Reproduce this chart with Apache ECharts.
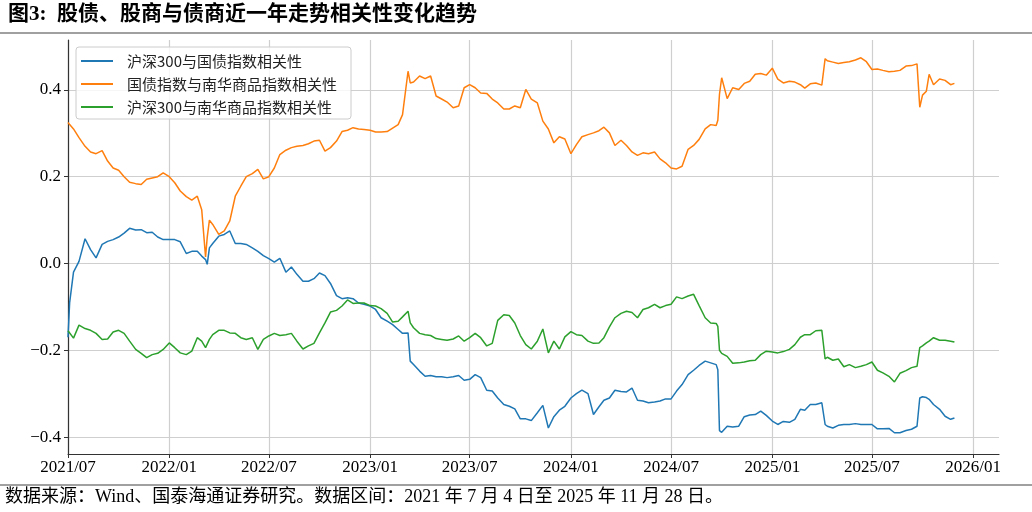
<!DOCTYPE html>
<html>
<head>
<meta charset="utf-8">
<title>股债、股商与债商近一年走势相关性变化趋势</title>
<script src="https://cdn.jsdelivr.net/npm/echarts@6/dist/echarts.min.js"></script>
<style>
  html, body { margin: 0; padding: 0; background: #fff; }
  #chart { width: 1032px; height: 512px; }
</style>
</head>
<body>
<div id="chart"></div>
<script>
// ========== 数据 ==========
var dates = [
  '2021-07-01', '2021-07-04', '2021-07-11', '2021-07-21', '2021-08-01', '2021-08-11', '2021-08-21',
  '2021-09-01', '2021-09-11', '2021-09-21', '2021-10-01', '2021-10-11', '2021-10-21',
  '2021-11-01', '2021-11-11', '2021-11-21', '2021-12-01', '2021-12-11', '2021-12-21',
  '2022-01-01', '2022-01-11', '2022-01-21', '2022-02-01', '2022-02-11', '2022-02-21',
  '2022-03-01', '2022-03-08', '2022-03-11', '2022-03-15', '2022-03-21',
  '2022-04-01', '2022-04-11', '2022-04-21', '2022-05-01', '2022-05-11', '2022-05-21',
  '2022-06-01', '2022-06-11', '2022-06-21', '2022-07-01', '2022-07-11', '2022-07-21',
  '2022-08-01', '2022-08-11', '2022-08-21', '2022-09-01', '2022-09-11', '2022-09-21',
  '2022-10-01', '2022-10-11', '2022-10-21', '2022-11-01', '2022-11-11', '2022-11-21',
  '2022-12-01', '2022-12-11', '2022-12-21',
  '2023-01-01', '2023-01-11', '2023-01-21', '2023-02-01', '2023-02-11', '2023-02-21',
  '2023-03-01', '2023-03-11', '2023-03-15', '2023-03-21',
  '2023-04-01', '2023-04-11', '2023-04-21', '2023-05-01', '2023-05-11', '2023-05-21',
  '2023-06-01', '2023-06-11', '2023-06-21', '2023-07-01', '2023-07-11', '2023-07-21',
  '2023-08-01', '2023-08-11', '2023-08-21', '2023-09-01', '2023-09-11', '2023-09-21',
  '2023-10-01', '2023-10-11', '2023-10-21', '2023-11-01', '2023-11-11', '2023-11-21',
  '2023-12-01', '2023-12-11', '2023-12-21',
  '2024-01-01', '2024-01-11', '2024-01-21', '2024-02-01', '2024-02-11', '2024-02-21',
  '2024-03-01', '2024-03-11', '2024-03-21', '2024-04-01', '2024-04-11', '2024-04-21',
  '2024-05-01', '2024-05-11', '2024-05-21', '2024-06-01', '2024-06-11', '2024-06-21',
  '2024-07-01', '2024-07-11', '2024-07-21', '2024-08-01', '2024-08-11', '2024-08-21',
  '2024-09-01', '2024-09-11', '2024-09-21', '2024-09-24', '2024-09-27',
  '2024-10-01', '2024-10-11', '2024-10-21', '2024-11-01', '2024-11-11', '2024-11-21',
  '2024-12-01', '2024-12-11', '2024-12-21',
  '2025-01-01', '2025-01-11', '2025-01-21', '2025-02-01', '2025-02-11', '2025-02-21',
  '2025-03-01', '2025-03-11', '2025-03-21', '2025-04-01', '2025-04-04', '2025-04-07',
  '2025-04-11', '2025-04-21', '2025-05-01', '2025-05-11', '2025-05-21',
  '2025-06-01', '2025-06-11', '2025-06-21', '2025-07-01', '2025-07-11', '2025-07-21',
  '2025-08-01', '2025-08-11', '2025-08-21', '2025-09-01', '2025-09-11', '2025-09-21',
  '2025-09-26', '2025-10-01', '2025-10-08', '2025-10-13', '2025-10-21',
  '2025-11-01', '2025-11-11', '2025-11-21', '2025-11-28'
];

// 沪深300与国债指数相关性
var hsBond = [
  -0.17, -0.09, -0.02, 0.005, 0.057, 0.032, 0.013,
  0.044, 0.051, 0.055, 0.061, 0.07, 0.081,
  0.077, 0.078, 0.071, 0.072, 0.061, 0.055,
  0.055, 0.055, 0.05, 0.023, 0.028, 0.028,
  0.017, 0.009, -0.002, 0.036, 0.046,
  0.063, 0.067, 0.075, 0.046, 0.046, 0.044,
  0.036, 0.028, 0.018, 0.011, 0.003, 0.012,
  -0.02, -0.008, -0.025, -0.041, -0.041, -0.035,
  -0.022, -0.028, -0.046, -0.074, -0.081, -0.079,
  -0.081, -0.091, -0.094,
  -0.098, -0.106, -0.125, -0.133, -0.141, -0.152,
  -0.161, -0.16, -0.225, -0.233,
  -0.248, -0.26, -0.258, -0.261, -0.261, -0.263,
  -0.261, -0.258, -0.269, -0.267, -0.256, -0.263,
  -0.292, -0.294, -0.31, -0.325, -0.329, -0.335,
  -0.358, -0.358, -0.362, -0.344, -0.327, -0.379,
  -0.353, -0.338, -0.329,
  -0.31, -0.30, -0.292, -0.30, -0.348, -0.33,
  -0.315, -0.31, -0.292, -0.295, -0.296, -0.287,
  -0.315, -0.317, -0.321, -0.319, -0.317, -0.312,
  -0.312, -0.294, -0.279, -0.256, -0.246, -0.235,
  -0.225, -0.229, -0.233, -0.245, -0.385,
  -0.389, -0.375, -0.377, -0.375, -0.353, -0.349,
  -0.348, -0.34, -0.35,
  -0.363, -0.371, -0.364, -0.366, -0.359, -0.336,
  -0.338, -0.325, -0.325, -0.321, -0.321, -0.371,
  -0.375, -0.379, -0.373, -0.371, -0.371,
  -0.369, -0.371, -0.371, -0.371, -0.381, -0.381,
  -0.38, -0.39, -0.39, -0.385, -0.382, -0.375,
  -0.31, -0.307, -0.309, -0.313, -0.325,
  -0.336, -0.352, -0.359, -0.356
];

// 国债指数与南华商品指数相关性
var bondComm = [
  0.325, 0.32, 0.31, 0.29, 0.27, 0.257, 0.253,
  0.26, 0.236, 0.22, 0.215, 0.20, 0.187,
  0.184, 0.182, 0.194, 0.197, 0.20, 0.209,
  0.20, 0.186, 0.167, 0.154, 0.146, 0.155,
  0.124, 0.015, 0.06, 0.10, 0.09,
  0.067, 0.075, 0.098, 0.155, 0.178, 0.20,
  0.207, 0.217, 0.195, 0.20, 0.22, 0.251,
  0.261, 0.267, 0.27, 0.272, 0.276, 0.282,
  0.284, 0.259, 0.267, 0.282, 0.304, 0.307,
  0.313, 0.31, 0.309,
  0.307, 0.303, 0.303, 0.304, 0.312, 0.32,
  0.343, 0.443, 0.416, 0.418,
  0.432, 0.426, 0.432, 0.386, 0.379, 0.372,
  0.359, 0.363, 0.405, 0.412, 0.405, 0.393,
  0.392, 0.379, 0.37, 0.356, 0.356, 0.363,
  0.359, 0.401, 0.379, 0.37, 0.328, 0.31,
  0.278, 0.292, 0.287,
  0.253, 0.274, 0.292, 0.297, 0.301, 0.306,
  0.314, 0.301, 0.272, 0.284, 0.272, 0.257,
  0.249, 0.255, 0.253, 0.257, 0.241, 0.232,
  0.22, 0.218, 0.224, 0.263, 0.272, 0.286,
  0.31, 0.32, 0.318, 0.33, 0.39,
  0.428, 0.38, 0.405, 0.401, 0.415, 0.42,
  0.436, 0.438, 0.434,
  0.45, 0.425, 0.416, 0.42, 0.418, 0.412,
  0.404, 0.414, 0.416, 0.411, 0.414, 0.472,
  0.467, 0.464, 0.461, 0.463, 0.465,
  0.469, 0.474, 0.465, 0.447, 0.448, 0.445,
  0.442, 0.443, 0.445, 0.455, 0.456, 0.46,
  0.36, 0.388, 0.397, 0.436, 0.412,
  0.425, 0.422, 0.412, 0.415
];

// 沪深300与南华商品指数相关性
var hsComm = [
  -0.155, -0.152, -0.172, -0.142, -0.15, -0.154, -0.161,
  -0.175, -0.174, -0.158, -0.154, -0.161, -0.179,
  -0.198, -0.207, -0.217, -0.21, -0.207, -0.198,
  -0.183, -0.194, -0.206, -0.21, -0.202, -0.171,
  -0.179, -0.194, -0.198, -0.175, -0.164,
  -0.154, -0.154, -0.16, -0.161, -0.171, -0.175,
  -0.171, -0.198, -0.175, -0.167, -0.161, -0.166,
  -0.164, -0.161, -0.179, -0.197, -0.19, -0.184,
  -0.16, -0.137, -0.112, -0.108, -0.098, -0.084,
  -0.092, -0.091, -0.091,
  -0.097, -0.098, -0.104, -0.115, -0.135, -0.133,
  -0.123, -0.11, -0.137, -0.148,
  -0.161, -0.164, -0.166, -0.173, -0.175, -0.177,
  -0.174, -0.167, -0.179, -0.171, -0.161, -0.171,
  -0.19, -0.184, -0.131, -0.118, -0.12, -0.137,
  -0.166, -0.187, -0.197, -0.179, -0.151, -0.206,
  -0.179, -0.197, -0.169,
  -0.157, -0.164, -0.166, -0.179, -0.184, -0.183,
  -0.171, -0.146, -0.125, -0.115, -0.11, -0.113,
  -0.125, -0.106, -0.102, -0.094, -0.102, -0.097,
  -0.094, -0.077, -0.081, -0.075, -0.071, -0.097,
  -0.125, -0.137, -0.138, -0.145, -0.2,
  -0.207, -0.214, -0.23, -0.229, -0.227, -0.224,
  -0.223, -0.21, -0.202,
  -0.204, -0.206, -0.203, -0.198, -0.187, -0.17,
  -0.164, -0.164, -0.155, -0.154, -0.154, -0.22,
  -0.216, -0.223, -0.22, -0.238, -0.233,
  -0.24, -0.237, -0.233, -0.227, -0.246, -0.252,
  -0.26, -0.273, -0.253, -0.247, -0.24, -0.237,
  -0.194, -0.19, -0.183, -0.179, -0.171,
  -0.177, -0.177, -0.179, -0.181
];

var seriesNames = ['沪深300与国债指数相关性', '国债指数与南华商品指数相关性', '沪深300与南华商品指数相关性'];
var seriesColors = ['#1f77b4', '#ff7f0e', '#2ca02c'];

// 坐标轴刻度
var xTicks = ['2021-07-01', '2022-01-01', '2022-07-01', '2023-01-01', '2023-07-01',
  '2024-01-01', '2024-07-01', '2025-01-01', '2025-07-01', '2026-01-01'];
var yTicks = [-0.4, -0.2, 0, 0.2, 0.4];
var xRange = ['2021-07-01', '2026-02-17'];

var titleText = '图3:  股债、股商与债商近一年走势相关性变化趋势';
var sourceText = '数据来源：Wind、国泰海通证券研究。数据区间：2021 年 7 月 4 日至 2025 年 11 月 28 日。';

var serifFont = "'Liberation Serif', 'Times New Roman', 'Noto Sans CJK SC', serif";

// 日期字符串 -> 时间戳（数值轴使用）
function toTime(s) {
  return +new Date(s + 'T00:00:00');
}

function toPairs(vals) {
  return dates.map(function(d, i) { return [toTime(d), vals[i]]; });
}

function pad2(n) { return n < 10 ? '0' + n : '' + n; }

function buildSeries(name, vals, color) {
  return {
    name: name,
    type: 'line',
    data: toPairs(vals),
    showSymbol: false,
    symbol: 'none',
    lineStyle: { color: color, width: 1.5 },
    itemStyle: { color: color }
  };
}

var chart = echarts.init(document.getElementById('chart'), null, { renderer: 'canvas' });
var xTickValues = xTicks.map(toTime);

var option = {
  animation: false,
  backgroundColor: '#fff',
  title: [
    {
      text: titleText,
      left: 8,
      top: 4,
      padding: 0,
      textStyle: { fontFamily: serifFont, fontSize: 21, fontWeight: 'bold', color: '#000' }
    },
    {
      text: sourceText,
      left: 5,
      top: 488,
      padding: 0,
      textStyle: { fontFamily: serifFont, fontSize: 18, fontWeight: 'normal', color: '#000' }
    }
  ],
  graphic: [
    // 标题下方与来源上方的分隔线
    { type: 'line', shape: { x1: 0, y1: 33, x2: 1032, y2: 33 }, style: { stroke: '#808080', lineWidth: 1.5 } },
    { type: 'line', shape: { x1: 0, y1: 485, x2: 1032, y2: 485 }, style: { stroke: '#808080', lineWidth: 1.5 } }
  ],
  legend: {
    orient: 'vertical',
    left: 76,
    top: 47,
    icon: 'rect',
    itemWidth: 32,
    itemHeight: 2,
    itemGap: 3,
    padding: [4, 14, 2, 5],
    backgroundColor: 'rgba(255,255,255,0.8)',
    borderColor: '#cccccc',
    borderWidth: 1,
    borderRadius: 3,
    data: seriesNames,
    textStyle: {
      fontFamily: "'Noto Sans CJK SC', sans-serif",
      fontSize: 15,
      color: '#222',
      lineHeight: 20,
      padding: [0, 0, 0, 9]
    }
  },
  grid: { left: 68, right: 33, top: 40, bottom: 58, containLabel: false },
  xAxis: {
    type: 'value',
    min: toTime(xRange[0]),
    max: toTime(xRange[1]),
    axisLine: { onZero: false, lineStyle: { color: '#333', width: 1.2 } },
    axisTick: { show: true, length: 4, lineStyle: { color: '#333' }, customValues: xTickValues },
    axisLabel: {
      customValues: xTickValues,
      margin: 5,
      fontFamily: serifFont,
      fontSize: 17,
      color: '#000',
      formatter: function(v) {
        var d = new Date(v);
        return d.getFullYear() + '/' + pad2(d.getMonth() + 1);
      }
    },
    splitLine: { show: true, lineStyle: { color: '#cfcfcf', width: 1.2 } }
  },
  yAxis: {
    type: 'value',
    min: -0.439,
    max: 0.515,
    axisLine: { show: true, onZero: false, lineStyle: { color: '#333', width: 1.2 } },
    axisTick: { show: true, length: 4, lineStyle: { color: '#333' }, customValues: yTicks },
    axisLabel: {
      customValues: yTicks,
      margin: 7,
      fontFamily: serifFont,
      fontSize: 17,
      color: '#000',
      formatter: function(v) {
        return (v < -1e-9 ? '\u2212' : '') + Math.abs(v).toFixed(1);
      }
    },
    splitLine: { show: true, lineStyle: { color: '#cfcfcf', width: 1.2 } }
  },
  series: [
    buildSeries(seriesNames[0], hsBond, seriesColors[0]),
    buildSeries(seriesNames[1], bondComm, seriesColors[1]),
    buildSeries(seriesNames[2], hsComm, seriesColors[2])
  ]
};

chart.setOption(option);
</script>
</body>
</html>
